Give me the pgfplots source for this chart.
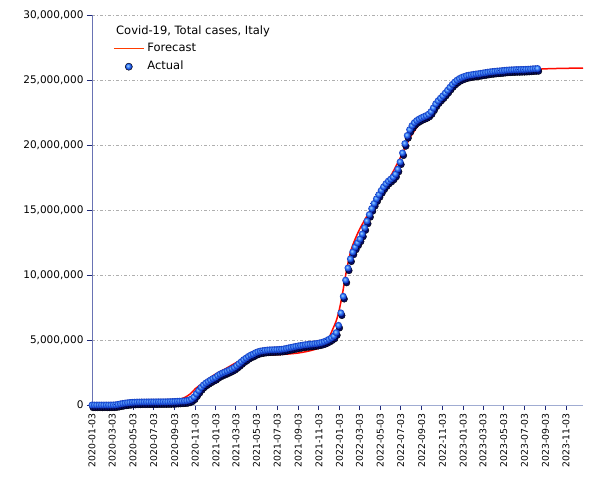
\documentclass[border=0pt]{standalone}
\usepackage{pgfplots}
\usepackage{pgfplotstable}
\pgfplotsset{compat=1.18}
\usepackage{fontspec}
\setmainfont{DejaVu Sans}
\definecolor{gridcol}{RGB}{175,175,175}
\definecolor{yaxcol}{RGB}{105,115,180}
\definecolor{xaxcol}{RGB}{160,172,210}
\definecolor{tickcol}{RGB}{30,40,120}
\definecolor{fcred}{RGB}{255,10,0}
\definecolor{legred}{RGB}{255,60,0}
\definecolor{ballhl}{RGB}{150,210,255}
\definecolor{ballcol}{RGB}{35,100,240}
\definecolor{ballrim}{RGB}{15,45,170}
\definecolor{shadowcol}{RGB}{5,10,100}
\pgfdeclareradialshading{covball}{\pgfqpoint{-8bp}{8bp}}{color(0bp)=(ballhl); color(7bp)=(ballhl!60!ballcol); color(15bp)=(ballcol); color(25bp)=(ballrim); color(50bp)=(ballrim)}
\pgfdeclareplotmark{covball}{\pgfpathcircle{\pgfpointorigin}{\pgfplotmarksize}\pgfshadepath{covball}{0}\pgfusepath{}}
\pgfplotstableread{
d y
0 0
7 0
14 0
21 0
28 0
35 0
42 0
49 0.00002
56 0.0009
63 0.0046
70 0.0177
77 0.047
84 0.086
91 0.120
98 0.147
105 0.172
112 0.192
119 0.207
126 0.217
133 0.224
140 0.229
147 0.232
154 0.234
161 0.236
168 0.238
175 0.240
182 0.241
189 0.242
196 0.244
203 0.246
210 0.248
217 0.250
224 0.253
231 0.258
238 0.265
245 0.274
252 0.283
259 0.294
266 0.305
273 0.317
280 0.339
287 0.382
294 0.466
301 0.616
308 0.862
315 1.108
322 1.345
329 1.539
336 1.688
343 1.805
350 1.921
357 2.028
364 2.117
371 2.257
378 2.368
385 2.456
392 2.530
399 2.611
406 2.697
413 2.787
420 2.888
427 3.024
434 3.176
441 3.332
448 3.487
455 3.609
462 3.737
469 3.842
476 3.920
483 4.022
490 4.093
497 4.146
504 4.178
511 4.205
518 4.225
525 4.240
532 4.249
539 4.255
546 4.262
553 4.270
560 4.287
567 4.315
574 4.352
581 4.393
588 4.432
595 4.469
602 4.509
609 4.543
616 4.575
623 4.608
630 4.635
637 4.656
644 4.675
651 4.693
658 4.714
665 4.739
672 4.773
679 4.818
686 4.880
693 4.957
700 5.054
707 5.167
714 5.300
721 5.566
728 6.125
735 7.085
742 8.357
749 9.603
756 10.540
763 11.236
770 11.766
777 12.150
784 12.470
791 12.770
798 13.150
805 13.640
812 14.150
819 14.650
826 15.110
833 15.500
840 15.860
847 16.180
854 16.500
861 16.780
868 17.020
875 17.220
882 17.370
889 17.530
896 17.760
903 18.140
910 18.700
917 19.390
924 20.110
931 20.730
938 21.180
945 21.490
952 21.720
959 21.880
966 22.000
973 22.100
980 22.180
987 22.260
994 22.370
1001 22.560
1008 22.850
1015 23.160
1022 23.400
1029 23.600
1036 23.780
1043 23.990
1050 24.210
1057 24.440
1064 24.660
1071 24.840
1078 24.990
1085 25.110
1092 25.200
1099 25.270
1106 25.330
1113 25.370
1120 25.400
1127 25.430
1134 25.460
1141 25.480
1148 25.510
1155 25.540
1162 25.570
1169 25.600
1176 25.630
1183 25.650
1190 25.670
1197 25.690
1204 25.700
1211 25.720
1218 25.740
1225 25.760
1232 25.770
1239 25.780
1246 25.790
1253 25.800
1260 25.800
1267 25.810
1274 25.810
1281 25.820
1288 25.830
1295 25.840
1302 25.860
1309 25.870
1316 25.880
}\actualtable
\pgfplotstableread{
d y
0 0
30 0.01
60 0.03
91 0.06
121 0.09
152 0.12
182 0.15
213 0.2
244 0.3
260 0.43
275 0.6
290 0.85
305 1.25
320 1.55
335 1.85
350 2.12
366 2.4
395 2.8
425 3.25
455 3.6
486 3.8
516 3.85
547 3.87
578 3.92
609 4.0
640 4.15
670 4.38
690 4.75
703 5.35
712 5.9
721 6.45
730 7.3
740 8.6
747 9.7
759 11.3
770 12.3
790 13.5
820 14.9
851 16.2
880 17.5
910 19.0
940 20.6
969 21.7
1000 22.7
1028 23.6
1060 24.4
1080 24.8
1096 25.05
1116 25.25
1155 25.5
1216 25.65
1264 25.75
1339 25.86
1400 25.9
1450 25.92
}\forecasttable
\begin{document}
\begin{tikzpicture}
\useasboundingbox (-92pt,-75pt) rectangle (513pt,405pt);
\begin{axis}[
  at={(0pt,0pt)}, anchor=south west,
  scale only axis, width=491pt, height=390pt,
  xmin=0, xmax=1450, ymin=0, ymax=30,
  clip=false,
  separate axis lines,
  axis x line=bottom, axis y line=left,
  x axis line style={-, draw=xaxcol, line width=0.9pt},
  y axis line style={-, draw=yaxcol, line width=0.9pt},
  xtick={0,60,121,182,244,305,366,425,486,547,609,670,731,790,851,912,974,1035,1096,1155,1216,1277,1339,1400},
  xticklabels={2020-01-03,2020-03-03,2020-05-03,2020-07-03,2020-09-03,2020-11-03,2021-01-03,2021-03-03,2021-05-03,2021-07-03,2021-09-03,2021-11-03,2022-01-03,2022-03-03,2022-05-03,2022-07-03,2022-09-03,2022-11-03,2023-01-03,2023-03-03,2023-05-03,2023-07-03,2023-09-03,2023-11-03},
  ytick={0,5,10,15,20,25,30},
  yticklabels={0,{5,000,000},{10,000,000},{15,000,000},{20,000,000},{25,000,000},{30,000,000}},
  tick align=outside, major tick length=5pt,
  tick style={draw=tickcol, line width=0.9pt},
  xticklabel style={rotate=90, anchor=east, font=\fontsize{9.3}{10}\selectfont, inner sep=3pt},
  yticklabel style={font=\fontsize{10.5}{12}\selectfont},
  ymajorgrids,
  major grid style={draw=gridcol, dash pattern=on 3pt off 2pt on 1pt off 2pt, line width=0.7pt},
  legend style={draw=none, fill=none, at={(rel axis cs:0.0428,0.9372)}, anchor=north west,
    font=\fontsize{11.5}{13}\selectfont, row sep=0pt, column sep=0pt, inner sep=0pt,
    nodes={inner sep=3pt, text height=9pt, text depth=3pt}},
  legend cell align=left,
]
\addlegendimage{legend image code/.code={\draw[line width=1.2pt, draw=legred] (0pt,0pt) -- (30pt,0pt);}}
\addlegendentry{Forecast}
\addlegendimage{legend image code/.code={\path[draw=none] (0pt,0pt) -- (30pt,0pt); \path[shading=covball] (15pt,0pt) circle (3.6pt);}}
\addlegendentry{Actual}

% shadow of each marker
\addplot[only marks, mark=*, mark size=3.3pt, mark options={draw=none, fill=shadowcol, xshift=1pt, yshift=-2.6pt}, forget plot] table[x=d, y=y] {\actualtable};
% markers
\addplot[only marks, mark=covball, mark size=3.5pt, forget plot] table[x=d, y=y] {\actualtable};
% forecast
\addplot[draw=fcred, line width=1.5pt, smooth, no marks, forget plot] table[x=d, y=y] {\forecasttable};
\end{axis}
\node[anchor=base west, inner sep=0pt, font=\fontsize{11.5}{13}\selectfont] at (24pt,370pt) {Covid-19, Total cases, Italy};
\end{tikzpicture}
\end{document}
